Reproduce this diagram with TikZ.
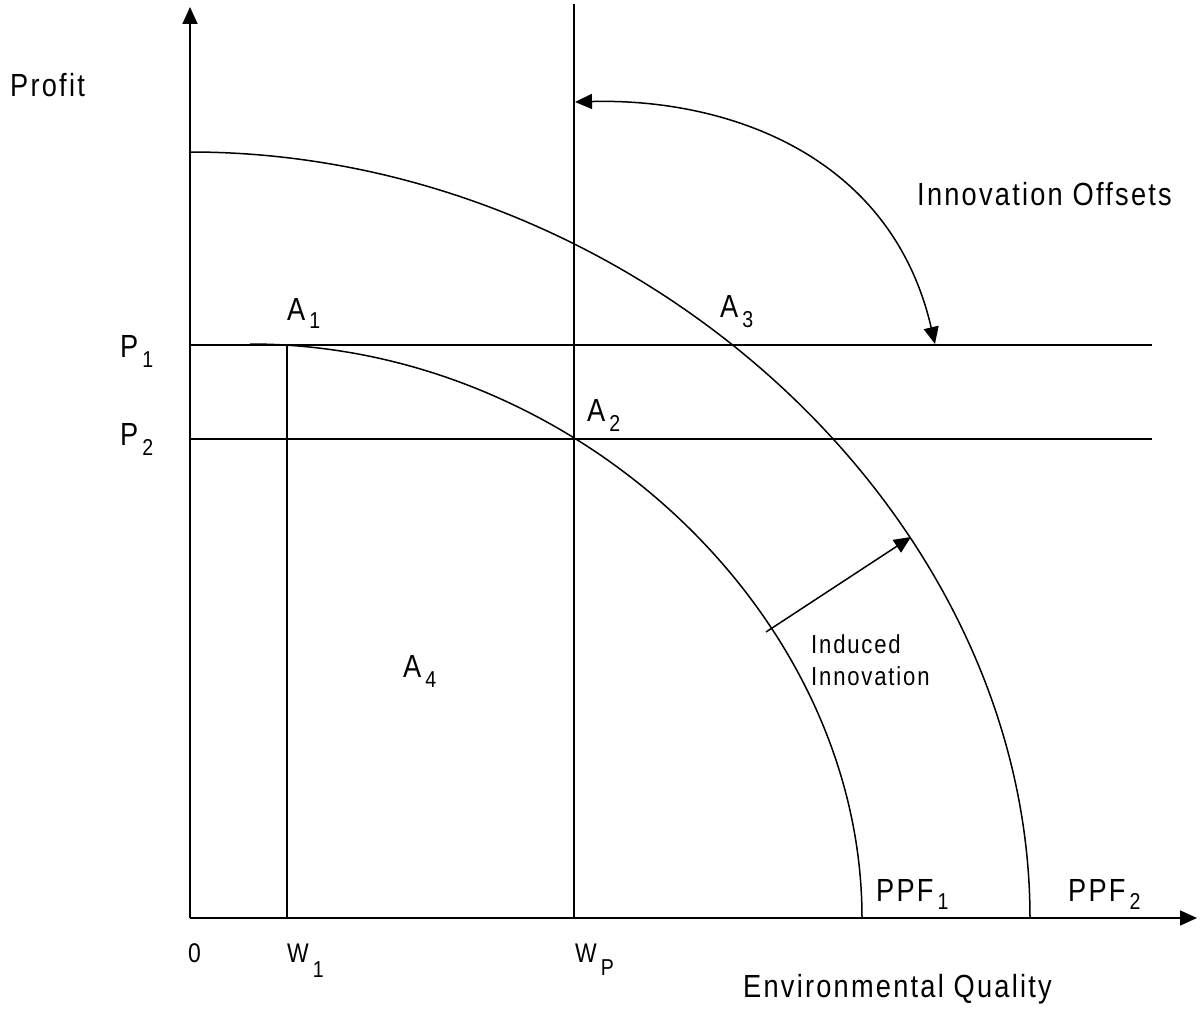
\documentclass[tikz,border=0pt]{standalone}
\usepackage{fontspec}
\setmainfont{Liberation Sans}[FakeStretch=0.85, LetterSpace=7]
\usetikzlibrary{arrows.meta}
\newcommand{\mysub}[2][10pt]{\hspace{4pt}\raisebox{-#1}{\fontsize{23}{23}\selectfont #2}}
\begin{document}
\begin{tikzpicture}[x=1pt,y=-1pt,
  ln/.style={line width=1.7pt, black},
  cv/.style={line width=1.5pt, black},
  tip/.style={-{Triangle[length=17pt,width=15pt]}},
  lbl/.style={anchor=base west, inner sep=0pt, font=\fontsize{32}{36}\selectfont},
  slbl/.style={anchor=base west, inner sep=0pt, font=\fontsize{27}{30}\selectfont},
  ilbl/.style={anchor=base west, inner sep=0pt, font=\fontsize{26}{30}\selectfont}]
\useasboundingbox (0,0) rectangle (1203,1011);
% coordinates
\coordinate (O) at (190,918);
\coordinate (ytop) at (190,7);
\coordinate (xend) at (1197,918);
\coordinate (wptop) at (574,4);
\coordinate (wpbot) at (574,918);
\coordinate (w1top) at (287,345);
\coordinate (w1bot) at (287,918);
\coordinate (p1l) at (190,345);
\coordinate (p1r) at (1152,345);
\coordinate (p2l) at (190,439);
\coordinate (p2r) at (1152,439);
\coordinate (c1s) at (250,344);
\coordinate (c1e) at (862,918);
\coordinate (c2s) at (190,152);
\coordinate (c2e) at (1030,918);
\coordinate (iis) at (766,632);
\coordinate (iie) at (911,537);
\coordinate (ios) at (935,344);
\coordinate (ioe) at (575,102);
% axes
\draw[ln,tip] (O) -- (ytop);
\draw[ln,tip] (O) -- (xend);
% lines
\draw[ln] (wpbot) -- (wptop);
\draw[ln] (w1bot) -- (w1top);
\draw[ln] (p1l) -- (p1r);
\draw[ln] (p2l) -- (p2r);
% frontiers
\draw[cv] (c1s) .. controls (574,344) and (862,614) .. (c1e);
\draw[cv] (c2s) .. controls (635,152) and (1030,512) .. (c2e);
% arrows
\draw[cv,tip] (iis) -- (iie);
\draw[cv,{Triangle[length=17pt,width=15pt]}-{Triangle[length=17pt,width=15pt]}] (ios) .. controls (890,150) and (720,98) .. (ioe);
% labels
\node[lbl] (profit) at (10,97) {Profit};
\node[lbl] (io) at (917,206) {Innovation Offsets};
\node[lbl] (a1) at (287,320) {A\mysub[9pt]{1}};
\node[lbl] (a3) at (720,317) {A\mysub[10pt]{3}};
\node[lbl] (p1) at (120,357) {P\mysub[10pt]{1}};
\node[lbl] (p2) at (120,445) {P\mysub[10pt]{2}};
\node[lbl] (a2) at (587,421) {A\mysub[10pt]{2}};
\node[lbl] (a4) at (403,677) {A\mysub[10pt]{4}};
\node[ilbl] (ii1) at (811,653) {Induced};
\node[ilbl] (ii2) at (811,685) {Innovation};
\node[lbl] (ppf1) at (876,901) {PPF\mysub[8pt]{1}};
\node[lbl] (ppf2) at (1068,901) {PPF\mysub[8pt]{2}};
\node[slbl] (zero) at (188,962) {0};
\node[slbl] (w1) at (287,962) {W\mysub[15pt]{1}};
\node[slbl] (wp) at (575,962) {W\mysub[13pt]{P}};
\node[lbl] (eq) at (743,997) {Environmental Quality};
\end{tikzpicture}
\end{document}
